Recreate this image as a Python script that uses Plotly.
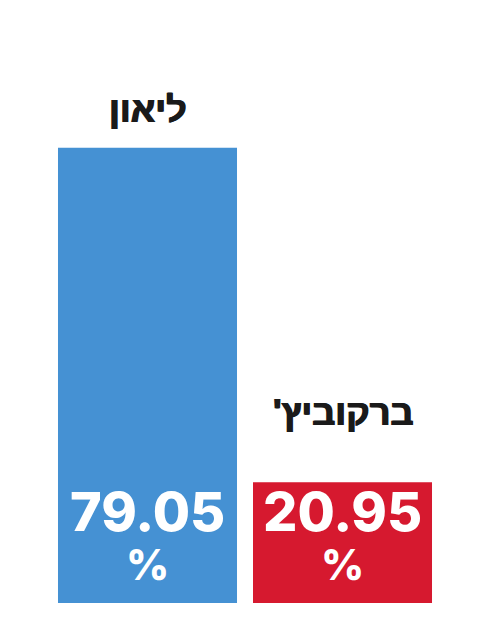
import plotly.graph_objects as go

# RLM keeps the apostrophe on the left side of the name
candidates = ["ליאון", "ברקוביץ'\u200f"]
percents = [79.05, 20.95]
colors = ["#4591d3", "#d6192f"]
# gap between name and top of bar, in px
name_gaps = [16, 47]

fig = go.Figure(
    data=[
        go.Bar(
            x=candidates,
            y=percents,
            marker_color=colors,
            marker_line_width=0,
            hoverinfo="skip",
        )
    ]
)

for name, pct, gap in zip(candidates, percents, name_gaps):
    # name above the bar
    fig.add_annotation(
        x=name, y=pct, text=f"<b>{name}</b>", showarrow=False,
        yanchor="bottom", yshift=gap,
        font=dict(family="Liberation Sans", size=36, color="#1a1a1a",
                  shadow="0.7px 0 0 #1a1a1a, -0.7px 0 0 #1a1a1a"),
    )
    # number + % sign at the bottom of the bar (base size sets line spacing)
    fig.add_annotation(
        x=name, y=0, showarrow=False,
        text=f"<span style='font-size:54px'>{pct:.2f}</span><br>"
             "<span style='font-size:42px'>%</span>",
        yanchor="bottom", yshift=11,
        font=dict(family="Inter", size=38, color="white", weight=800),
    )

fig.update_layout(
    width=490, height=641,
    margin=dict(l=42, r=58, t=19, b=46),
    plot_bgcolor="white", paper_bgcolor="white",
    bargap=0.082,
    showlegend=False,
)
fig.update_xaxes(visible=False)
fig.update_yaxes(visible=False, range=[0, 100])

fig.write_html("out.html")
